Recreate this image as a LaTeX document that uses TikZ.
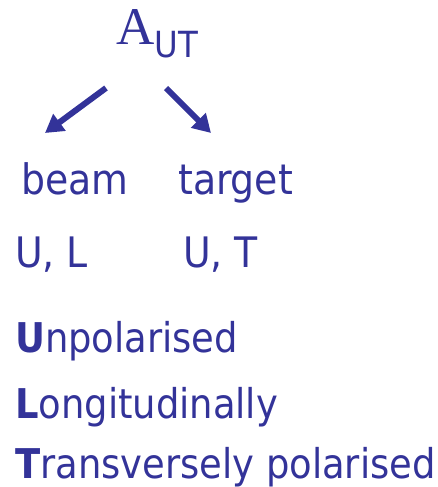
\documentclass[tikz,border=0pt]{standalone}
\usepackage{fontspec}
\setmainfont{DejaVu Sans Condensed}
\newfontfamily\serifA{Liberation Serif}
\usetikzlibrary{arrows.meta}
\definecolor{navy}{RGB}{51,51,153}
\begin{document}
\begin{tikzpicture}[x=1pt,y=-1pt,
  txt/.style={anchor=base west,inner sep=0pt,text=navy},
  big/.style={txt,font=\fontsize{42}{48}\selectfont},
  small/.style={txt,font=\fontsize{41}{46}\selectfont},
  arr/.style={navy,line width=6pt,-{Triangle[length=18pt,width=20pt]}}]
\useasboundingbox (0,0) rectangle (437,487);
\node[txt,font=\fontsize{53}{60}\selectfont\serifA] (a) at (116,45) {A};
\node[txt,font=\fontsize{36}{40}\selectfont] (sub) at (a.base east) [yshift=-13pt] {UT};
\coordinate (l1) at (106,88);
\coordinate (l2) at (45,133);
\coordinate (r1) at (166,88);
\coordinate (r2) at (211,133);
\draw[arr] (l1) -- (l2);
\draw[arr] (r1) -- (r2);
\node[big] (beam) at (21,194) {beam};
\node[big] (target) at (178,194) {target};
\node[big] (ul) at (15,267) {U, L};
\node[big] (ut) at (183,267) {U, T};
\node[small] (unp) at (15,352) {\textbf{U}npolarised};
\node[small] (lon) at (15,418) {\textbf{L}ongitudinally};
\node[small] (tra) at (15,478) {\textbf{T}ransversely polarised};
\end{tikzpicture}
\end{document}
